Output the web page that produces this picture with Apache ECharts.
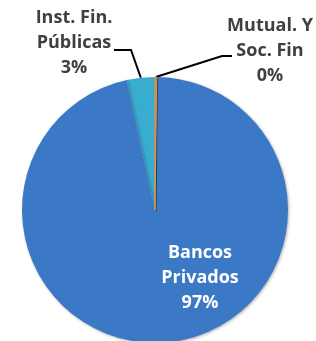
<!DOCTYPE html>
<html><head><meta charset="utf-8">
<script src="https://cdn.jsdelivr.net/npm/echarts@6/dist/echarts.min.js"></script>
<style>html,body{margin:0;padding:0;background:#fff}#c{width:316px;height:341px}</style>
</head><body><div id="c"></div>
<script>
const categories = ['Inst. Fin.\nPúblicas', 'Bancos\nPrivados', 'Mutual. Y\nSoc. Fin'];
const values = [3.4, 96.4, 0.2];
const pctLabels = ['3%', '97%', '0%'];
const colors = ['#38add0', '#3b79c6', '#f7913a'];

const chart = echarts.init(document.getElementById('c'), null, {renderer: 'canvas'});
// label anchors (layout only)
const labelPos = [
  {x: 74, y: 43, lineEnd: [114, 50], elbow: [131, 50]},
  null,
  {x: 270, y: 51, lineEnd: [232, 56], elbow: [222, 56]}
];
chart.setOption({
  animation: false,
  series: [{
    type: 'pie',
    center: [155, 210],
    radius: 133,
    startAngle: 90,
    clockwise: false,
    avoidLabelOverlap: false,
    data: categories.map((c, i) => ({
      name: c, value: values[i],
      itemStyle: i === 2
        ? {color: colors[i], borderColor: colors[i], borderWidth: 1, shadowBlur: 0}
        : {color: colors[i], shadowBlur: i === 1 ? 3 : 0},
      label: i === 1 ? {position: 'inside', color: '#fff'} : {position: 'outside', color: '#404040'},
      labelLine: {show: i !== 1, lineStyle: {color: '#000', width: 2, shadowBlur: 0}}
    })),
    label: {
      formatter: p => p.name + '\n' + pctLabels[p.dataIndex],
      fontFamily: 'Open Sans', fontWeight: 'bold', fontSize: 18, lineHeight: 25, align: 'center'
    },
    labelLine: {length: 20, length2: 10},
    labelLayout: function (p) {
      const lp = labelPos[p.dataIndex];
      if (!lp) return {x: 200, y: 278, align: 'center', verticalAlign: 'middle'};
      const pts = p.labelLinePoints;
      return {
        x: lp.x, y: lp.y, align: 'center', verticalAlign: 'middle',
        labelLinePoints: [pts[0], lp.elbow, lp.lineEnd]
      };
    },
    itemStyle: {borderWidth: 0, shadowColor: 'rgba(0,0,0,0.3)', shadowOffsetX: 1, shadowOffsetY: 1}
  }]
});
</script></body></html>
